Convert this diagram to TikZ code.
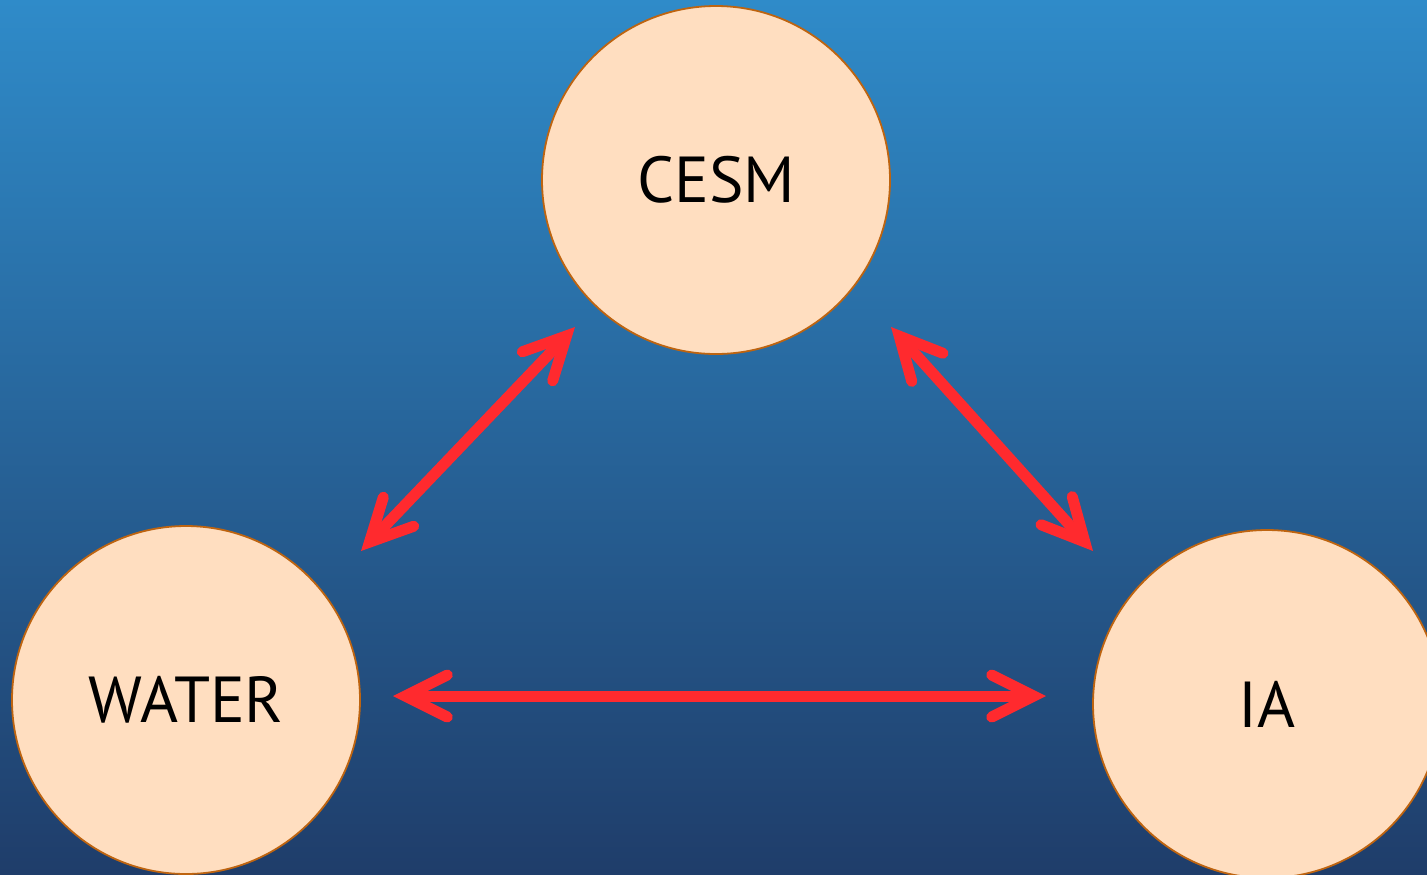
\documentclass[tikz,border=0pt]{standalone}
\usepackage{fontspec}
\setmainfont{PT Sans}
\usetikzlibrary{arrows.meta}
\definecolor{bgtop}{RGB}{47,139,201}
\definecolor{bgbottom}{RGB}{31,61,106}
\definecolor{peach}{RGB}{255,222,192}
\definecolor{rim}{RGB}{190,100,16}
\definecolor{linkred}{RGB}{255,42,46}

\begin{document}
\begin{tikzpicture}[x=0.5pt, y=-0.5pt,
        model/.style={circle, draw=rim, line width=0.9pt, fill=peach,
            minimum size=174pt, inner sep=0pt,
            font=\fontsize{32.5}{33}\selectfont},
        barb/.tip={Straight Barb[length=21pt, width=21pt,
            line cap=round, line join=miter]},
        link/.style={draw=linkred, line width=5.5pt, barb-barb}]
        \clip (0, 0) rectangle (1427, 874);
        \shade[top color=bgtop, bottom color=bgbottom]
        (0, 0) rectangle (1427, 874);

        \node[model] (cesm) at (716, 180) {CESM};
        \node[model] (water) at (186, 700) {WATER};
        \node[model] (ia) at (1267, 704) {IA};

        \coordinate (cesm-w) at (575, 327);
        \coordinate (cesm-e) at (891, 327);
        \coordinate (water-n) at (361, 551);
        \coordinate (water-e) at (393, 696);
        \coordinate (ia-n) at (1093, 551);
        \coordinate (ia-w) at (1046, 696);

        \draw[link] (water-n) to (cesm-w);
        \draw[link] (cesm-e) to (ia-n);
        \draw[link] (water-e) to (ia-w);
    \end{tikzpicture}
\end{document}
